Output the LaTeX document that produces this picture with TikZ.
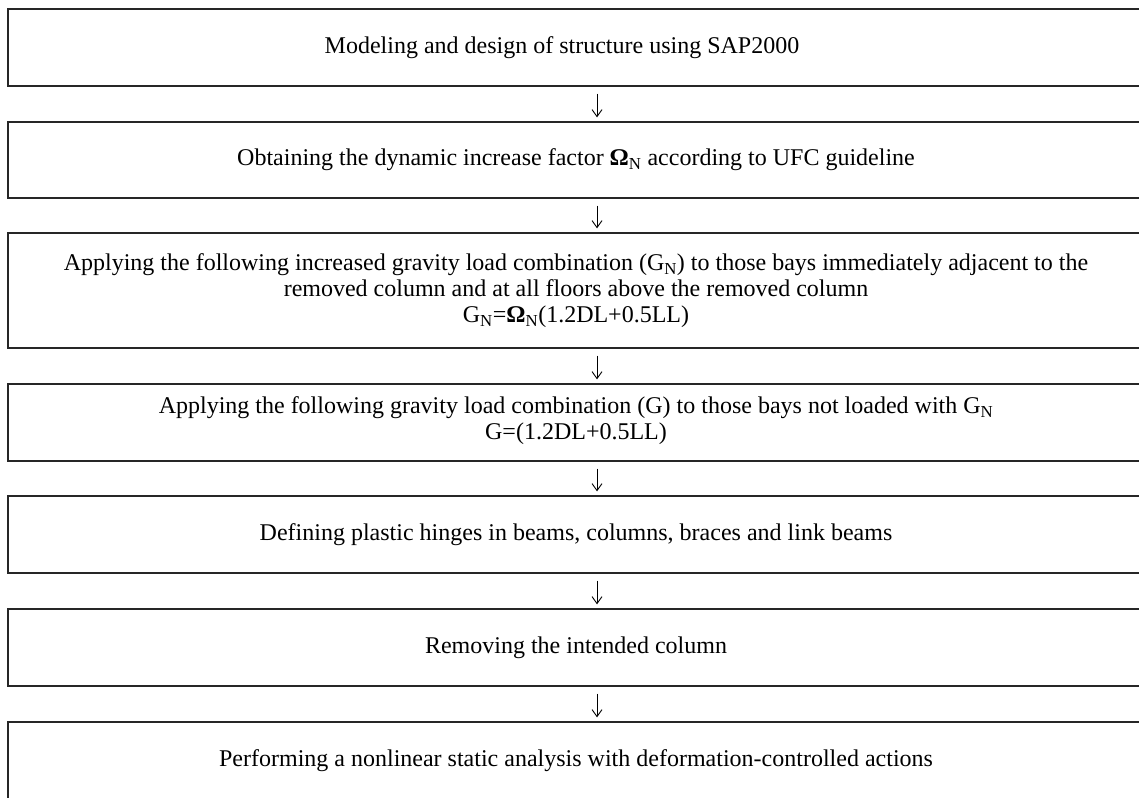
\documentclass[tikz,border=0pt]{standalone}
\usepackage{fontspec}
\setmainfont{Liberation Serif}
\usetikzlibrary{arrows.meta}
\newcommand{\subN}{\textsubscript{N}}
\begin{document}
\begin{tikzpicture}[x=1pt,y=-1pt,
  stepbox/.style={draw=black!85, line width=1.3pt, minimum width=1136pt, inner sep=0pt,
    align=center, font=\fontsize{24}{26}\selectfont},
  conn/.style={line width=0.9pt, -{Straight Barb[length=7pt,width=10pt]},
    shorten <=7pt, shorten >=4pt}]
\useasboundingbox (0,0) rectangle (1139,797);
\clip (0,0) rectangle (1139,797);
\node[stepbox, minimum height=77pt] (b1) at (576,47.5)
  {Modeling and design of structure using SAP2000\hspace*{28pt}};
\node[stepbox, minimum height=76pt] (b2) at (576,160)
  {Obtaining the dynamic increase factor \textbf{Ω}\subN{} according to UFC guideline};
\node[stepbox, minimum height=115pt] (b3) at (576,290.5)
  {Applying the following increased gravity load combination (G\subN) to those bays immediately adjacent to the\\
   removed column and at all floors above the removed column\\
   G\subN=\textbf{Ω}\subN(1.2DL+0.5LL)};
\node[stepbox, minimum height=77pt] (b4) at (576,422.5)
  {Applying the following gravity load combination (G) to those bays not loaded with G\subN\\
   G=(1.2DL+0.5LL)\rule[-9pt]{0pt}{1pt}};
\node[stepbox, minimum height=77pt] (b5) at (576,534.5)
  {Defining plastic hinges in beams, columns, braces and link beams};
\node[stepbox, minimum height=77pt] (b6) at (576,647.5)
  {Removing the intended column};
\node[stepbox, minimum height=77pt] (b7) at (576,760.5)
  {Performing a nonlinear static analysis with deformation-controlled actions};
\coordinate (ax) at (597,0);
\draw[conn] (b1.south -| ax) -- (b2.north -| ax);
\draw[conn] (b2.south -| ax) -- (b3.north -| ax);
\draw[conn] (b3.south -| ax) -- (b4.north -| ax);
\draw[conn] (b4.south -| ax) -- (b5.north -| ax);
\draw[conn] (b5.south -| ax) -- (b6.north -| ax);
\draw[conn] (b6.south -| ax) -- (b7.north -| ax);
\end{tikzpicture}
\end{document}
